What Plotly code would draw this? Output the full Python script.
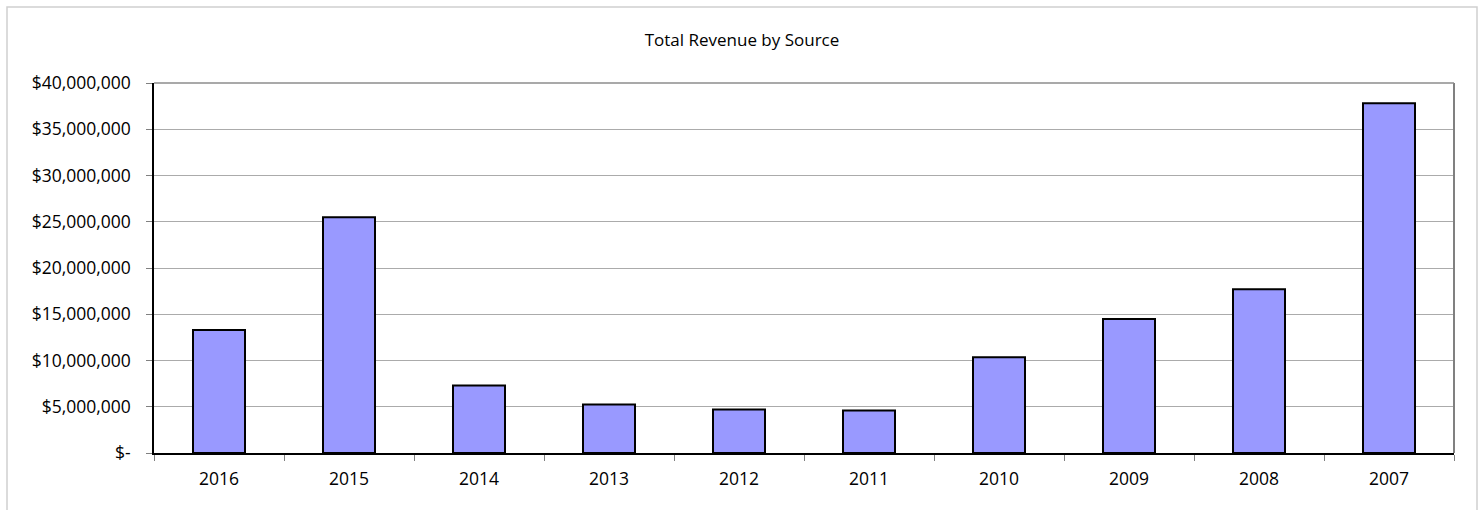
import plotly.graph_objects as go

# Revenue per fiscal year, newest first
years = ["2016", "2015", "2014", "2013", "2012", "2011", "2010", "2009", "2008", "2007"]
revenue = [13300000, 25500000, 7300000, 5250000, 4700000, 4600000, 10350000, 14500000, 17700000, 37800000]

tick_values = [0, 5000000, 10000000, 15000000, 20000000, 25000000, 30000000, 35000000, 40000000]
tick_labels = ["$-", "$5,000,000", "$10,000,000", "$15,000,000", "$20,000,000",
               "$25,000,000", "$30,000,000", "$35,000,000", "$40,000,000"]

FONT = "Open Sans"

fig = go.Figure(
    go.Bar(
        x=years,
        y=revenue,
        width=0.4,
        marker=dict(color="#9999FF", line=dict(color="#000000", width=2)),
        hoverinfo="x+y",
    )
)

W, H = 1484, 510
L, R, T, B = 154, 30, 83, 57
plot_w = W - L - R
plot_h = H - T - B

fig.update_layout(
    width=W,
    height=H,
    margin=dict(l=L, r=R, t=T, b=B),
    paper_bgcolor="white",
    plot_bgcolor="white",
    showlegend=False,
    font=dict(family=FONT, size=17.5, color="#000000"),
    title=dict(
        text="Total Revenue by Source",
        x=(742) / W,
        xanchor="center",
        y=1 - 40 / H,
        yanchor="middle",
        font=dict(family=FONT, size=17, color="#000000"),
    ),
    bargap=0.6,
)

fig.update_yaxes(
    range=[0, 40000000],
    tickvals=tick_values,
    ticktext=tick_labels,
    showgrid=True,
    gridcolor="#ABABAB",
    gridwidth=1,
    showline=True,
    linecolor="#000000",
    linewidth=1.5,
    ticks="outside",
    ticklen=6,
    tickcolor="#808080",
    ticklabelstandoff=12,
    zeroline=False,
    fixedrange=True,
)

fig.update_xaxes(
    type="category",
    showline=True,
    linecolor="#000000",
    linewidth=1.5,
    ticks="outside",
    tickson="boundaries",
    ticklen=6,
    tickcolor="#808080",
    ticklabelstandoff=9,
    showgrid=False,
    fixedrange=True,
)

# Top and right edges of the plot area
fig.add_shape(type="line", xref="paper", yref="paper", x0=1, x1=1, y0=0, y1=1,
              line=dict(color="#808080", width=2))
fig.add_shape(type="line", xref="paper", yref="paper", x0=0, x1=1, y0=1, y1=1,
              line=dict(color="#8C8C8C", width=1.5))

# Outer chart border
fig.add_shape(
    type="rect", xref="paper", yref="paper",
    x0=(7 - L) / plot_w, x1=(1477 - L) / plot_w,
    y0=(H - B - 530) / plot_h, y1=(H - B - 7) / plot_h,
    line=dict(color="#D0D0D0", width=1.5),
    fillcolor="rgba(0,0,0,0)",
    layer="below",
)

fig.write_html("out.html")
